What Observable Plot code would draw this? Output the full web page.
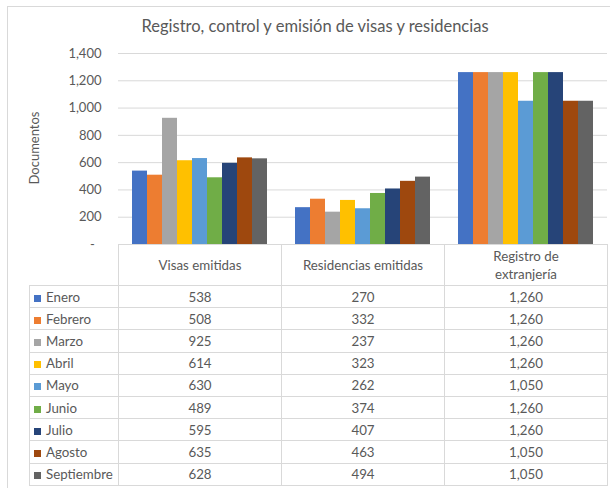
<!DOCTYPE html>
<html>
<head>
<meta charset="utf-8">
<script src="https://cdn.jsdelivr.net/npm/d3@7"></script>
<script src="https://cdn.jsdelivr.net/npm/@observablehq/plot@0.6"></script>
<style>
  html, body { margin: 0; padding: 0; background: #fff; }
  #wrap { position: relative; width: 610px; height: 488px; overflow: hidden; font-family: Lato, "Open Sans", sans-serif; color: #595959; }
  #frame { position: absolute; left: 7px; top: 6px; width: 620px; height: 500px; border: 1px solid #d9d9d9; box-sizing: border-box; }
  #title { position: absolute; left: 0; width: 630px; top: 16px; text-align: center; font-size: 16.5px; color: #595959; white-space: nowrap; }
  #ylabel { position: absolute; left: 34px; top: 148px; transform: translate(-50%, -50%) rotate(-90deg); font-size: 13px; white-space: nowrap; }
  #chart { position: absolute; left: 0; top: 0; }
  table { position: absolute; left: 29px; top: 244px; border-collapse: collapse; table-layout: fixed; font-size: 13.3px; color: #595959; }
  td { border: 1px solid #d9d9d9; text-align: center; padding: 0; }
  tr.head td { height: 40px; line-height: 18px; }
  tr.head td.corner { border-left: none; border-top: none; }
  tr.row td { height: 21.2px; }
  td.lab { text-align: left; padding-left: 4px; white-space: nowrap; }
  .sw { display: inline-block; width: 7px; height: 7px; margin-right: 5px; vertical-align: 0px; }
</style>
</head>
<body>
<div id="wrap">
  <div id="frame"></div>
  <div id="title"></div>
  <div id="ylabel"></div>
  <div id="chart"></div>
  <table id="tbl"></table>
</div>
<script>
const titleText = "Registro, control y emisión de visas y residencias";
const yLabel = "Documentos";
const months = ["Enero","Febrero","Marzo","Abril","Mayo","Junio","Julio","Agosto","Septiembre"];
const categories = ["Visas emitidas","Residencias emitidas","Registro de extranjería"];
const headerLabels = ["Visas emitidas","Residencias emitidas","Registro de<br>extranjería"];
const visas = [538,508,925,614,630,489,595,635,628];
const residencias = [270,332,237,323,262,374,407,463,494];
const registro = [1260,1260,1260,1260,1050,1260,1260,1050,1050];
const colors = ["#4472C4","#ED7D31","#A5A5A5","#FFC000","#5B9BD5","#70AD47","#264478","#9E480E","#636363"];
const yTicks = [0,200,400,600,800,1000,1200,1400];

const series = [visas, residencias, registro];
const rows = [];
categories.forEach((c, ci) => months.forEach((m, mi) => rows.push({cat: c, month: m, value: series[ci][mi]})));

document.getElementById("title").textContent = titleText;
document.getElementById("ylabel").textContent = yLabel;

const fmt = d3.format(",");
const chart = Plot.plot({
  width: 610,
  height: 245,
  marginLeft: 118,
  marginRight: 3,
  marginTop: 53,
  marginBottom: 1,
  style: {fontFamily: "Lato, 'Open Sans', sans-serif", fontSize: "13px", color: "#595959", background: "transparent", overflow: "visible"},
  fx: {domain: categories, paddingInner: 0, paddingOuter: 0, axis: null, label: null},
  x: {domain: months, paddingInner: 0, paddingOuter: 0.74, axis: null},
  y: {domain: [0, 1400], ticks: yTicks, tickFormat: d => d === 0 ? "-\u00a0\u00a0" : fmt(d), tickSize: 0, tickPadding: 17, label: null},
  color: {domain: months, range: colors},
  marks: [
    Plot.gridY(yTicks.filter(d => d > 0), {stroke: "#d9d9d9", strokeOpacity: 1}),
    Plot.barY(rows, {fx: "cat", x: "month", y: "value", fill: "month"})
  ]
});
document.getElementById("chart").appendChild(chart);

// Data table
const tbl = document.getElementById("tbl");
const colgroup = document.createElement("colgroup");
[89,163,163,163].forEach(w => { const c = document.createElement("col"); c.style.width = w + "px"; colgroup.appendChild(c); });
tbl.appendChild(colgroup);
const head = document.createElement("tr");
head.className = "head";
const corner = document.createElement("td"); corner.className = "corner"; head.appendChild(corner);
headerLabels.forEach(h => { const td = document.createElement("td"); td.innerHTML = h; head.appendChild(td); });
tbl.appendChild(head);
months.forEach((m, i) => {
  const tr = document.createElement("tr"); tr.className = "row";
  const lab = document.createElement("td"); lab.className = "lab";
  const sw = document.createElement("span"); sw.className = "sw"; sw.style.background = colors[i];
  lab.appendChild(sw); lab.appendChild(document.createTextNode(m));
  tr.appendChild(lab);
  series.forEach(s => { const td = document.createElement("td"); td.textContent = fmt(s[i]); tr.appendChild(td); });
  tbl.appendChild(tr);
});
</script>
</body>
</html>
